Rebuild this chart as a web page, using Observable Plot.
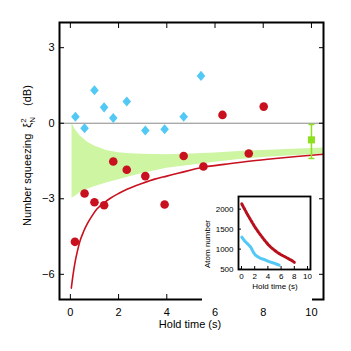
<!DOCTYPE html>
<html>
<head>
<meta charset="utf-8">
<script src="https://cdn.jsdelivr.net/npm/d3@7"></script>
<script src="https://cdn.jsdelivr.net/npm/@observablehq/plot@0.6"></script>
<style>
  body { margin: 0; background: white; }
  #wrap { position: relative; width: 351px; height: 351px; }
  #inset { position: absolute; left: 202px; top: 192px; }
</style>
</head>
<body>
<div id="wrap"><div id="main"></div><div id="inset"></div></div>
<script>
// ---- main chart data ----
const blueT = [0.21, 0.59, 1.0, 1.4, 1.78, 2.34, 3.11, 3.91, 4.70, 5.42];
const blueV = [0.26, -0.2, 1.31, 0.63, 0.21, 0.86, -0.29, -0.24, 0.26, 1.88];

const redT = [0.19, 0.59, 1.0, 1.4, 1.78, 2.34, 3.11, 3.91, 4.70, 5.52, 6.31, 7.40, 8.02];
const redV = [-4.71, -2.79, -3.14, -3.26, -1.52, -1.85, -2.1, -3.23, -1.3, -1.72, 0.33, -1.2, 0.66];

const curveT = [0.04, 0.1, 0.2, 0.3, 0.4, 0.55, 0.7, 0.9, 1.1, 1.4, 1.66, 2.0, 2.35, 3.0, 3.5, 4.0, 4.5, 5.5, 6.5, 7.5, 8.5, 9.5, 10.5];
const curveV = [-6.55, -6.1, -5.5, -5.05, -4.68, -4.3, -4.0, -3.68, -3.41, -3.16, -2.98, -2.79, -2.62, -2.38, -2.22, -2.1, -1.98, -1.75, -1.62, -1.5, -1.4, -1.31, -1.23];

const bandT = [0.07, 0.2, 0.4, 0.7, 1, 1.5, 2, 2.5, 3, 4, 5, 6, 7, 8, 9, 10, 10.5];
const bandUpper = [0, -0.25, -0.5, -0.75, -0.9, -1.08, -1.17, -1.21, -1.23, -1.25, -1.22, -1.18, -1.12, -1.08, -1.04, -1.0, -0.98];
const bandLower = [-2.98, -2.9, -2.76, -2.63, -2.52, -2.37, -2.24, -2.12, -2.0, -1.79, -1.67, -1.55, -1.44, -1.36, -1.3, -1.25, -1.22];

const greenT = [10];
const greenV = [-0.66];
const greenLo = [-1.4];
const greenHi = [-0.05];

const xTicks = [0, 2, 4, 6, 8, 10];
const yTicks = [-6, -3, 0, 3];

// ---- inset data ----
const insetRedT = [0.05, 0.5, 1, 1.5, 2, 2.5, 3, 3.5, 4, 4.5, 5, 5.5, 6, 6.5, 7, 7.5, 8];
const insetRedV = [2130, 1990, 1840, 1700, 1560, 1440, 1330, 1220, 1120, 1040, 970, 910, 860, 815, 770, 725, 670];
const insetBlueT = [0.05, 0.5, 1, 1.4, 1.8, 2.1, 2.8, 3.5, 4.3, 5, 5.7];
const insetBlueV = [1300, 1200, 1120, 1050, 920, 850, 775, 735, 680, 645, 600];
const insetXTicks = [0, 2, 4, 6, 8, 10];
const insetYTicks = [500, 1000, 1500, 2000];

// ---- tables ----
const blue = blueT.map((t, i) => ({t, v: blueV[i]}));
const red = redT.map((t, i) => ({t, v: redV[i]}));
const curve = curveT.map((t, i) => ({t, v: curveV[i]}));
const band = bandT.map((t, i) => ({t, hi: bandUpper[i], lo: bandLower[i]}));
const green = greenT.map((t, i) => ({t, v: greenV[i], lo: greenLo[i], hi: greenHi[i]}));
const iRed = insetRedT.map((t, i) => ({t, v: insetRedV[i]}));
const iBlue = insetBlueT.map((t, i) => ({t, v: insetBlueV[i]}));

const diamondSym = {
  draw(ctx, size) {
    const r = Math.sqrt(size / Math.PI);
    ctx.moveTo(0, -r * 1.12); ctx.lineTo(r * 0.95, 0);
    ctx.lineTo(0, r * 1.12); ctx.lineTo(-r * 0.95, 0); ctx.closePath();
  }
};
const capSym = {
  draw(ctx, size) {
    const r = Math.sqrt(size / Math.PI);
    ctx.moveTo(-r, 0); ctx.lineTo(r, 0);
  }
};

const font = "'Liberation Sans', Arial, Helvetica, sans-serif";
const RED = "#c8101e", BLUE = "#52c8f5", BAND = "#cdf5a2", LIME = "#8ee01e";

const main = Plot.plot({
  width: 351, height: 351,
  marginLeft: 59, marginRight: 28, marginTop: 22, marginBottom: 52,
  x: {domain: [-0.45, 10.5]},
  y: {domain: [-7, 4]},
  style: {fontFamily: font, fontSize: "11px", background: "white", color: "black"},
  marks: [
    Plot.areaY(band, {x: "t", y1: "lo", y2: "hi", fill: BAND}),
    Plot.ruleY([0], {stroke: "#888", strokeWidth: 1}),
    Plot.line(curve, {x: "t", y: "v", stroke: RED, strokeWidth: 1.6, curve: "monotone-x"}),
    Plot.dot(blue, {x: "t", y: "v", symbol: diamondSym, r: 4.5, fill: BLUE, stroke: "none"}),
    Plot.dot(red, {x: "t", y: "v", r: 4.3, fill: RED, stroke: "none"}),
    Plot.ruleX(green, {x: "t", y1: "lo", y2: "hi", stroke: LIME, strokeWidth: 1.5}),
    Plot.dot(green, {x: "t", y: "lo", symbol: capSym, r: 3, stroke: LIME, strokeWidth: 1.5}),
    Plot.dot(green, {x: "t", y: "hi", symbol: capSym, r: 3, stroke: LIME, strokeWidth: 1.5}),
    Plot.dot(green, {x: "t", y: "v", symbol: "square", r: 4, fill: LIME, stroke: "none"}),
    Plot.axisX({anchor: "bottom", ticks: xTicks, tickSize: -5, tickPadding: 14, label: null}),
    Plot.axisX({anchor: "top", ticks: xTicks, tickSize: -5, tickFormat: () => "", label: null}),
    Plot.axisY({anchor: "left", ticks: yTicks, tickSize: -5, tickPadding: 10, label: null}),
    Plot.axisY({anchor: "right", ticks: yTicks, tickSize: -5, tickFormat: () => "", label: null}),
    Plot.frame({stroke: "black", strokeWidth: 2})
  ]
});
document.getElementById("main").appendChild(main);

// axis labels for the main chart
const ms = d3.select(main);
ms.append("text")
  .attr("x", 190).attr("y", 328)
  .attr("text-anchor", "middle")
  .style("font-family", font).style("font-size", "11px").attr("fill", "black")
  .text("Hold time (s)");
const yl = ms.append("text")
  .attr("transform", "translate(30.5,226) rotate(-90)")
  .attr("text-anchor", "start")
  .style("font-family", font).style("font-size", "11px").attr("fill", "black");
yl.append("tspan").text("Number squeezing");
yl.append("tspan").attr("dx", 6).text("ξ");
yl.append("tspan").attr("dy", -5).style("font-size", "8px").text("2");
yl.append("tspan").attr("dx", -4.5).attr("dy", 9).style("font-size", "8px").text("N");
yl.append("tspan").attr("dx", 11).attr("dy", -4).text("(dB)");

// ---- inset ----
const inset = Plot.plot({
  width: 110, height: 110,
  marginLeft: 36, marginTop: 4, marginRight: 2, marginBottom: 33,
  x: {domain: [-0.45, 10.45]},
  y: {domain: [490, 2316]},
  style: {fontFamily: font, fontSize: "8px", background: "white", color: "black"},
  marks: [
    Plot.line(iBlue, {x: "t", y: "v", stroke: BLUE, strokeWidth: 3, strokeDasharray: "3,0.6"}),
    Plot.line(iRed, {x: "t", y: "v", stroke: "#b80f1c", strokeWidth: 3, strokeDasharray: "2.6,1.2"}),
    Plot.axisX({anchor: "bottom", ticks: insetXTicks, tickSize: -3, tickPadding: 7, label: null}),
    Plot.axisY({anchor: "left", ticks: insetYTicks, tickSize: -3, tickPadding: 8, tickFormat: d3.format("d"), label: null}),
    Plot.frame({stroke: "black", strokeWidth: 1.8})
  ]
});
document.getElementById("inset").appendChild(inset);
const is = d3.select(inset);
is.append("text")
  .attr("x", 73).attr("y", 97)
  .attr("text-anchor", "middle")
  .style("font-family", font).style("font-size", "8px").attr("fill", "black")
  .text("Hold time (s)");
is.append("text")
  .attr("transform", "translate(8,52) rotate(-90)")
  .attr("text-anchor", "middle")
  .style("font-family", font).style("font-size", "8px").attr("fill", "black")
  .text("Atom number");
</script>
</body>
</html>
